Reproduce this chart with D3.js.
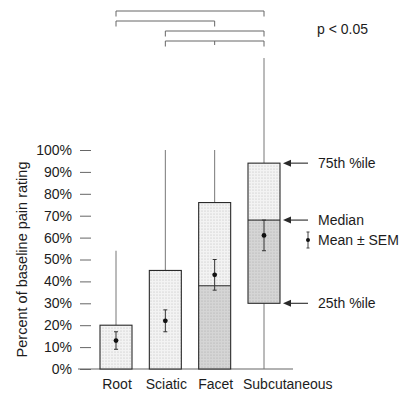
<!DOCTYPE html>
<html>
<head>
<meta charset="utf-8">
<script src="https://cdn.jsdelivr.net/npm/d3@7"></script>
<style>
  body { margin: 0; background: #fff; }
  svg text { font-family: "Liberation Sans", Arial, sans-serif; fill: #1c1c1c; }
</style>
</head>
<body>
<div id="chart"></div>
<script>
// ------- data (percent of baseline pain rating) -------

var categories = ["Root", "Sciatic", "Facet", "Subcutaneous"];
var q1 = [0, 0, 0, 30];
var median = [0, 0, 38, 68];
var q3 = [20, 45, 76, 94];
var whiskerMax = [54, 100, 100, 142];
var mean = [13, 22, 43, 61];
var sem = [4, 5, 7, 7];
var yTicks = [0, 10, 20, 30, 40, 50, 60, 70, 80, 90, 100];

// significance brackets, as indices into categories
var brackets = [[0, 3], [0, 2], [1, 3], [1, 2, 3]];

var W = 406, H = 393;
var ink = "#2a2a2a", grey = "#666";

var svg = d3.select("#chart").append("svg")
  .attr("width", W).attr("height", H);

var defs = svg.append("defs");
function dots(id, bg, dot) {
  var p = defs.append("pattern").attr("id", id)
    .attr("width", 3).attr("height", 3)
    .attr("patternUnits", "userSpaceOnUse");
  p.append("rect").attr("width", 3).attr("height", 3).attr("fill", bg);
  p.append("circle").attr("cx", 1).attr("cy", 1).attr("r", 0.55).attr("fill", dot);
}
dots("light", "#f3f3f3", "#b8b8b8");
dots("dark", "#d5d5d5", "#a8a8a8");

// ------ scales --------

var y = d3.scaleLinear().domain([0, 100]).range([369, 150]);
var x = d3.scalePoint().domain(categories).range([116, 264]);
var bw = 32;

// ------ y axis (detached tick dashes) --------

var yAxis = svg.append("g")
  .attr("transform", "translate(91,0)")
  .call(d3.axisLeft(y).tickValues(yTicks).tickSize(11).tickPadding(8)
    .tickFormat(function(d) { return d + "%"; }));
yAxis.select(".domain").remove();
yAxis.selectAll("line").attr("stroke", grey);
yAxis.selectAll("text")
  .style("font-family", "'Liberation Sans', Arial, sans-serif")
  .style("font-size", "14px").attr("fill", "#1c1c1c");

svg.append("text")
  .attr("transform", "translate(27," + y(50) + ") rotate(-90)")
  .attr("text-anchor", "middle")
  .style("font-size", "14.5px")
  .text("Percent of baseline pain rating");

// baseline
svg.append("line")
  .attr("x1", 78).attr("x2", 293)
  .attr("y1", y(0)).attr("y2", y(0))
  .attr("stroke", grey).attr("stroke-width", 1.2);

// ------ boxes --------

var idx = d3.range(categories.length);
var g = svg.append("g");

// whiskers
g.selectAll("line.wup").data(idx).enter().append("line")
  .attr("x1", function(i) { return x(categories[i]); })
  .attr("x2", function(i) { return x(categories[i]); })
  .attr("y1", function(i) { return y(q3[i]); })
  .attr("y2", function(i) { return y(whiskerMax[i]); })
  .attr("stroke", "#777").attr("stroke-width", 1);
g.selectAll("line.wdn").data(idx.filter(function(i) { return q1[i] > 0; }))
  .enter().append("line")
  .attr("x1", function(i) { return x(categories[i]); })
  .attr("x2", function(i) { return x(categories[i]); })
  .attr("y1", function(i) { return y(q1[i]); })
  .attr("y2", y(0))
  .attr("stroke", "#777").attr("stroke-width", 1);

// lower half (q1 - median), darker
g.selectAll("rect.lo").data(idx).enter().append("rect")
  .attr("x", function(i) { return x(categories[i]) - bw / 2; })
  .attr("width", bw)
  .attr("y", function(i) { return y(median[i]); })
  .attr("height", function(i) { return y(q1[i]) - y(median[i]); })
  .attr("fill", "url(#dark)");

// upper half (median - q3), lighter
g.selectAll("rect.hi").data(idx).enter().append("rect")
  .attr("x", function(i) { return x(categories[i]) - bw / 2; })
  .attr("width", bw)
  .attr("y", function(i) { return y(q3[i]); })
  .attr("height", function(i) { return y(median[i]) - y(q3[i]); })
  .attr("fill", "url(#light)");

// outline
g.selectAll("rect.box").data(idx).enter().append("rect")
  .attr("x", function(i) { return x(categories[i]) - bw / 2; })
  .attr("width", bw)
  .attr("y", function(i) { return y(q3[i]); })
  .attr("height", function(i) { return y(q1[i]) - y(q3[i]); })
  .attr("fill", "none").attr("stroke", ink).attr("stroke-width", 1.1);

// median line
g.selectAll("line.med").data(idx.filter(function(i) { return median[i] > q1[i]; }))
  .enter().append("line")
  .attr("x1", function(i) { return x(categories[i]) - bw / 2; })
  .attr("x2", function(i) { return x(categories[i]) + bw / 2; })
  .attr("y1", function(i) { return y(median[i]); })
  .attr("y2", function(i) { return y(median[i]); })
  .attr("stroke", ink).attr("stroke-width", 1.1);

// mean +- SEM
function semMark(sel, cx, m, s) {
  sel.append("line").attr("x1", cx).attr("x2", cx)
    .attr("y1", y(m - s)).attr("y2", y(m + s))
    .attr("stroke", "#333").attr("stroke-width", 1);
  [m - s, m + s].forEach(function(v) {
    sel.append("line").attr("x1", cx - 2).attr("x2", cx + 2)
      .attr("y1", y(v)).attr("y2", y(v))
      .attr("stroke", "#333").attr("stroke-width", 1);
  });
  sel.append("circle").attr("cx", cx).attr("cy", y(m)).attr("r", 2.4).attr("fill", "#111");
}
idx.forEach(function(i) { semMark(g, x(categories[i]), mean[i], sem[i]); });

// category labels
svg.selectAll("text.cat").data(categories).enter().append("text")
  .attr("x", function(d) { return x(d); })
  .attr("y", 389)
  .attr("text-anchor", function(d, i) { return i === 3 ? "start" : "middle"; })
  .attr("dx", function(d, i) { return i === 3 ? -21 : 1; })
  .style("font-size", "14px")
  .text(function(d) { return d; });

// ------ significance brackets --------

var bk = svg.append("g").attr("stroke", "#666").attr("stroke-width", 1).attr("fill", "none");
brackets.forEach(function(b, k) {
  var by = 11 + k * 10;
  var xs = b.map(function(i) { return x(categories[i]); });
  bk.append("line").attr("x1", xs[0]).attr("x2", xs[xs.length - 1])
    .attr("y1", by).attr("y2", by);
  xs.forEach(function(xx, j) {
    var inner = j > 0 && j < xs.length - 1;
    bk.append("line").attr("x1", xx).attr("x2", xx)
      .attr("y1", by).attr("y2", by + (inner ? 4 : 5.5));
  });
});

svg.append("text").attr("x", 317).attr("y", 34)
  .style("font-size", "14px").text("p < 0.05");

// ------ legend, pointing at the Subcutaneous box --------

var lg = svg.append("g");
var boxRight = x(categories[3]) + bw / 2;
[[q3[3], "75th %ile"], [median[3], "Median"], [q1[3], "25th %ile"]].forEach(function(r) {
  var yy = y(r[0]);
  lg.append("line").attr("x1", boxRight + 9).attr("x2", 308)
    .attr("y1", yy).attr("y2", yy).attr("stroke", ink).attr("stroke-width", 1.1);
  lg.append("path")
    .attr("d", "M" + (boxRight + 3) + "," + yy + "l8,-3.5v7z")
    .attr("fill", ink);
  lg.append("text").attr("x", 318).attr("y", yy).attr("dy", "0.36em")
    .style("font-size", "14px").text(r[1]);
});
var ly = 240;
lg.append("line").attr("x1", 308).attr("x2", 308).attr("y1", ly - 8).attr("y2", ly + 8)
  .attr("stroke", "#444").attr("stroke-width", 1);
[ly - 8, ly + 8].forEach(function(v) {
  lg.append("line").attr("x1", 306.5).attr("x2", 309.5).attr("y1", v).attr("y2", v)
    .attr("stroke", "#444");
});
lg.append("circle").attr("cx", 308).attr("cy", ly).attr("r", 2).attr("fill", "#111");
lg.append("text").attr("x", 318).attr("y", ly).attr("dy", "0.36em")
  .style("font-size", "14px").text("Mean \u00b1 SEM");
</script>
</body>
</html>
